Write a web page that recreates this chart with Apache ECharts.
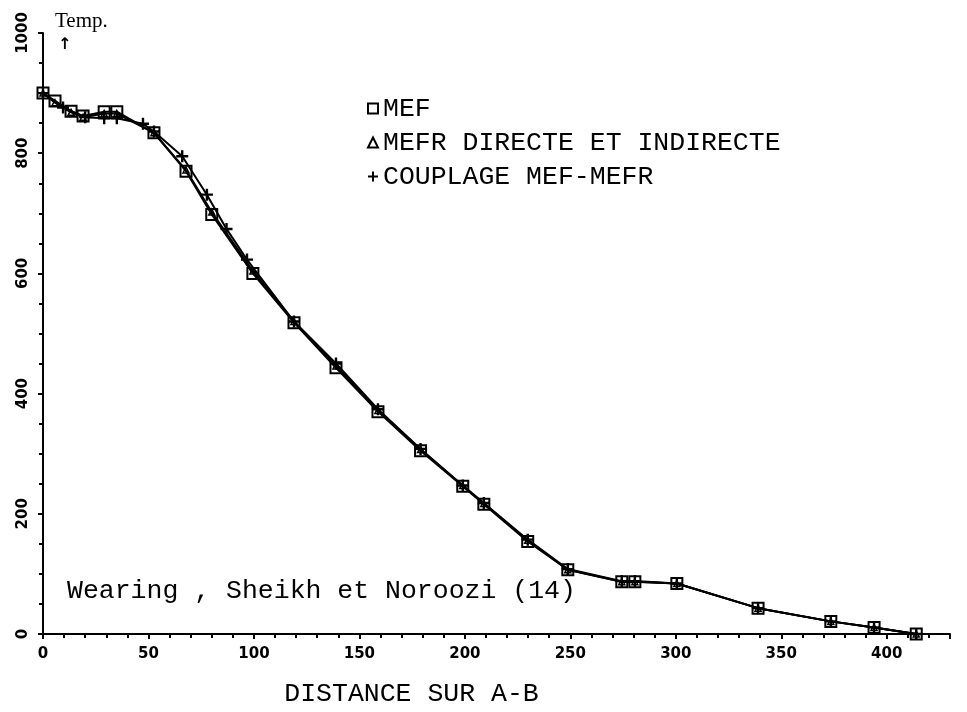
<!DOCTYPE html>
<html>
<head>
<meta charset="utf-8">
<script src="https://cdn.jsdelivr.net/npm/echarts@6/dist/echarts.min.js"></script>
<style>html,body{margin:0;padding:0;background:#fff}#c{width:967px;height:712px}</style>
</head>
<body>
<div id="c"></div>
<script>
// ---- data ----
const seriesNames = ['MEF', 'MEFR DIRECTE ET INDIRECTE', 'COUPLAGE MEF-MEFR'];
const xMEF = [0,5.7,13.3,19,29,35,52.6,67.8,80,99.5,119,138.9,158.8,179,199,209,229.8,248.8,274.4,280.6,300.5,339,373.5,394,414];
const yMEF = [900,887,870,862,869,869,834,770,698,600,518,443,370,305,246,216,154,107,87,87,84,43,21,11,0];
const xMEFR = [0,5.7,13.3,19,29,35,52.6,67.8,80,99.5,119,138.9,158.8,179,199,209,229.8,248.8,274.4,280.6,300.5,339,373.5,394,414];
const yMEFR = [900,884,868,860,866,866,834,772,702,604,520,446,372,307,247,217,156,107,87,87,84,43,21,11,0];
const xCPL = [0,9.5,20,29,35,47.4,52.6,66,77.7,87,96.7,119,138.9,158.8,179,199,209,229.8,248.8,274.4,280.6,300.5,339,373.5,394,414];
const yCPL = [900,876,860,858,858,849,836,795,731,674,623,520,450,374,308,247,218,157,108,88,88,84,43,21,11,0];
const xTicks = [0,50,100,150,200,250,300,350,400];
const yTicks = [0,200,400,600,800,1000];
const xTitle = 'DISTANCE SUR A-B';
const yTitle = 'Temp.';
const note = 'Wearing , Sheikh et Noroozi (14)';

const pair = (xs, ys) => xs.map((x, i) => [x, ys[i]]);
const plusPath = 'path://M4,0H6V4H10V6H6V10H4V6H0V4H4Z';
const mono = '"Liberation Mono", "DejaVu Sans Mono", monospace';
const tickFont = { fontFamily: '"DejaVu Sans", sans-serif', fontWeight: 'bold', fontSize: 15, color: '#000' };

const chart = echarts.init(document.getElementById('c'), null, { renderer: 'canvas' });
const hollow = { color: 'rgba(255,255,255,0)', borderColor: '#000', borderWidth: 2 };
chart.setOption({
  animation: false,
  backgroundColor: '#fff',
  grid: { left: 43, right: 17, top: 33, bottom: 69, containLabel: false },
  legend: {
    orient: 'vertical', left: 362, top: 90, itemGap: 7,
    itemWidth: 10, itemHeight: 10,
    textStyle: { fontFamily: mono, fontSize: 26.5, color: '#000' },
    data: [
      { name: seriesNames[0], icon: 'rect', itemStyle: hollow },
      { name: seriesNames[1], icon: 'triangle', itemStyle: hollow },
      { name: seriesNames[2], icon: plusPath, itemStyle: { color: '#000', borderWidth: 0 } }
    ]
  },
  xAxis: {
    type: 'value', min: 0, max: 430, interval: 50,
    axisLine: { show: true, onZero: false, lineStyle: { color: '#000', width: 2 } },
    axisTick: { show: true, length: 5, lineStyle: { color: '#000', width: 2 } },
    minorTick: { show: true, splitNumber: 5, length: 4, lineStyle: { color: '#000', width: 2 } },
    splitLine: { show: false },
    axisLabel: Object.assign({ margin: 13, showMaxLabel: false,
      formatter: v => xTicks.includes(v) ? String(v) : '' }, tickFont),
    name: xTitle, nameLocation: 'middle', nameGap: 46,
    nameTextStyle: { fontFamily: mono, fontSize: 26.5, color: '#000', padding: [0, 170, 0, 0] }
  },
  yAxis: {
    type: 'value', min: 0, max: 1000, interval: 200,
    axisLine: { show: true, onZero: false, lineStyle: { color: '#000', width: 2 } },
    axisTick: { show: true, length: 5, lineStyle: { color: '#000', width: 2 } },
    minorTick: { show: true, splitNumber: 4, length: 4, lineStyle: { color: '#000', width: 2 } },
    splitLine: { show: false },
    axisLabel: Object.assign({ margin: 12, rotate: 90,
      formatter: v => yTicks.includes(v) ? String(v) : '' }, tickFont),
    name: ''
  },
  graphic: [
    { type: 'text', left: 55, top: 11, style: { text: yTitle, font: '21px "Liberation Serif", serif', fill: '#000' } },
    { type: 'text', left: 58, top: 37, style: { text: '\u2191', font: 'bold 16px "DejaVu Sans", sans-serif', fill: '#000' } },
    { type: 'text', left: 67, top: 577, style: { text: note, font: '26.5px ' + mono, fill: '#000' } }
  ],
  series: [
    { name: seriesNames[0], type: 'line', data: pair(xMEF, yMEF), symbol: 'rect', symbolSize: 11,
      lineStyle: { color: '#000', width: 2 }, itemStyle: hollow, z: 3 },
    { name: seriesNames[1], type: 'line', data: pair(xMEFR, yMEFR), symbol: 'triangle', symbolSize: 6,
      lineStyle: { color: '#000', width: 2 }, itemStyle: { color: 'rgba(255,255,255,0)', borderColor: '#000', borderWidth: 1.5 }, z: 4 },
    { name: seriesNames[2], type: 'line', data: pair(xCPL, yCPL), symbol: plusPath, symbolSize: 12,
      lineStyle: { color: '#000', width: 2 }, itemStyle: { color: '#000', borderWidth: 0 }, z: 5 }
  ]
});
</script>
</body>
</html>
